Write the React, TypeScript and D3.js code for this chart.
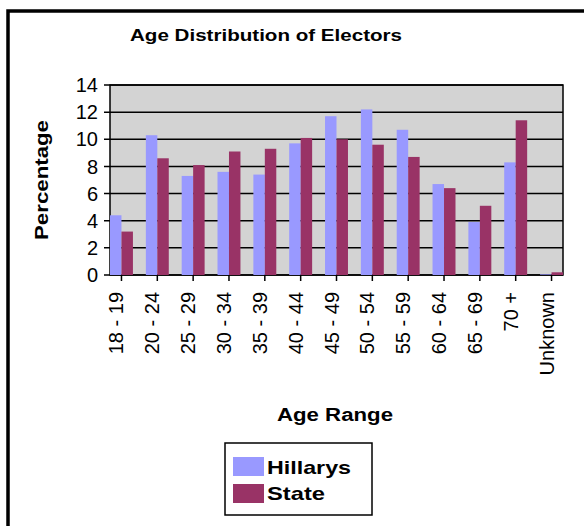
import React from "react";
import * as d3 from "d3";

const categories = ["18 - 19", "20 - 24", "25 - 29", "30 - 34", "35 - 39", "40 - 44", "45 - 49", "50 - 54", "55 - 59", "60 - 64", "65 - 69", "70 +", "Unknown"];
const hillarys = [4.4, 10.3, 7.3, 7.6, 7.4, 9.7, 11.7, 12.2, 10.7, 6.7, 3.9, 8.3, 0.05];
const state = [3.2, 8.6, 8.1, 9.1, 9.3, 10.1, 10.0, 9.6, 8.7, 6.4, 5.1, 11.4, 0.2];
const seriesNames = ["Hillarys", "State"];
const seriesColors = ["#9999ff", "#993366"];
const yTicks = [0, 2, 4, 6, 8, 10, 12, 14];

const W = 584;
const H = 526;
const plot = { left: 110, right: 563, top: 85, bottom: 275 };

export default function App() {
  const x0 = d3.scaleBand<string>().domain(categories).range([plot.left, plot.right]).paddingInner(0.36).paddingOuter(0);
  const x1 = d3.scaleBand<string>().domain(seriesNames).range([0, x0.bandwidth()]).padding(0);
  const y = d3.scaleLinear().domain([0, 14]).range([plot.bottom, plot.top]);
  const data = [hillarys, state];
  const font = "'Liberation Sans', Arial, sans-serif";

  return (
    <svg width={W} height={H} style={{ position: "absolute", left: 0, top: 0, background: "#fff" }} fontFamily={font}>
      <rect x={0} y={0} width={W} height={H} fill="#ffffff" />
      <path d={`M8,${H} L8,11 L${W},11`} fill="none" stroke="#000" strokeWidth={3.5} />
      <text x={266} y={41} textAnchor="middle" fontWeight="bold" fontSize={17} textLength={272} lengthAdjust="spacingAndGlyphs">Age Distribution of Electors</text>

      <rect x={plot.left} y={plot.top} width={plot.right - plot.left} height={plot.bottom - plot.top} fill="#d3d3d3" />
      {yTicks.map((t) => (
        <g key={t}>
          <line x1={plot.left - 6} x2={plot.right} y1={y(t)} y2={y(t)} stroke="#000" strokeWidth={1.5} />
          <text x={98} y={y(t)} dy="0.36em" textAnchor="end" fontSize={20}>{t}</text>
        </g>
      ))}
      <rect x={plot.left} y={plot.top} width={plot.right - plot.left} height={plot.bottom - plot.top} fill="none" stroke="#000" strokeWidth={1.5} />

      {categories.map((c, i) => (
        <g key={c}>
          {seriesNames.map((s, j) => (
            <rect key={s} x={(x0(c) as number) + (x1(s) as number)} y={y(data[j][i])} width={x1.bandwidth()} height={y(0) - y(data[j][i])} fill={seriesColors[j]} />
          ))}
          <line x1={(x0(c) as number) + x0.bandwidth() / 2} x2={(x0(c) as number) + x0.bandwidth() / 2} y1={plot.bottom} y2={plot.bottom + 6} stroke="#000" strokeWidth={1.5} />
          <text transform={`translate(${(x0(c) as number) + x0.bandwidth() / 2 + 2},${plot.bottom + 17}) rotate(-90)`} textAnchor="end" fontSize={20}>{c}</text>
        </g>
      ))}

      <text transform={`translate(48,180) rotate(-90)`} textAnchor="middle" fontWeight="bold" fontSize={19} textLength={120} lengthAdjust="spacingAndGlyphs">Percentage</text>
      <text x={335} y={421} textAnchor="middle" fontWeight="bold" fontSize={18} textLength={116} lengthAdjust="spacingAndGlyphs">Age Range</text>

      <rect x={225} y={443} width={147} height={72} fill="#fff" stroke="#000" strokeWidth={1.5} />
      {seriesNames.map((s, j) => (
        <g key={s}>
          <rect x={233} y={457 + j * 27} width={31} height={19} fill={seriesColors[j]} />
          <text x={267} y={474 + j * 26} fontWeight="bold" fontSize={19} textLength={j === 0 ? 84 : 58} lengthAdjust="spacingAndGlyphs">{s}</text>
        </g>
      ))}
    </svg>
  );
}
